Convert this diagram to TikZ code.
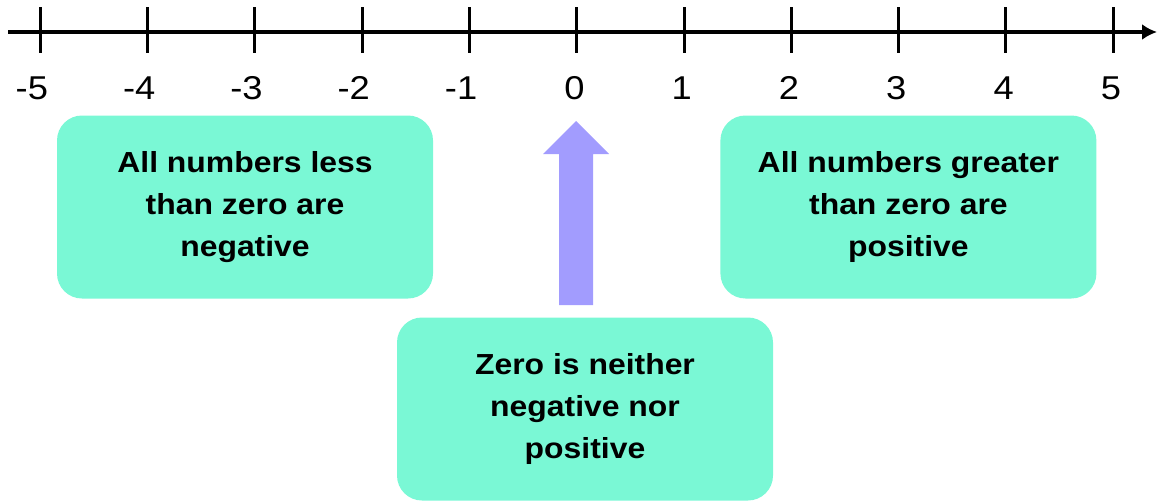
\documentclass[tikz,border=0pt]{standalone}
\usepackage{fontspec}
\setmainfont{Liberation Sans}[FakeStretch=1.1]
\usetikzlibrary{positioning,arrows.meta}
\definecolor{boxgreen}{RGB}{122,248,213}
\definecolor{arrowblue}{RGB}{162,156,254}

\begin{document}
\begin{tikzpicture}[
        x=1pt, y=-1pt,
        >={Latex[length=15pt,width=16pt]},
        axis/.style={line width=3.5pt},
        tick/.style={line width=3pt},
        num/.style={font=\fontsize{33}{33}\selectfont, anchor=base east, inner sep=0pt},
        note/.style={rectangle, fill=boxgreen, rounded corners=25pt, align=center,
                     minimum width=376pt, minimum height=183pt, inner sep=0pt,
                     font=\bfseries\fontsize{29}{42}\selectfont},
        uparrow/.style={fill=arrowblue}
    ]
    \useasboundingbox (0,0) rectangle (1158,501);

    % number line
    \coordinate (start) at (8,32);
    \coordinate (end) at (1157,32);
    \draw[axis,->] (start) -- (end);
    \foreach \v [count=\k] in {-5,...,5} {
        \draw[tick] (576.7+\v*107.3,7) -- (576.7+\v*107.3,53);
        \node[num] (n\k) at (576.7+\v*107.3+8,99) {\v};
    }

    % boxes
    \node[note] (neg) at (245,207) {All numbers less\\than zero are\\negative};
    \node[note, right=287pt of neg] (pos) {All numbers greater\\than zero are\\positive};
    \node[note] (zero) at (585,409) {Zero is neither\\negative nor\\positive};

    % block arrow up to zero
    \fill[uparrow] (559,305) -- (559,154) -- (543,154) -- (576,121)
        -- (609,154) -- (593,154) -- (593,305) -- cycle;
\end{tikzpicture}
\end{document}
